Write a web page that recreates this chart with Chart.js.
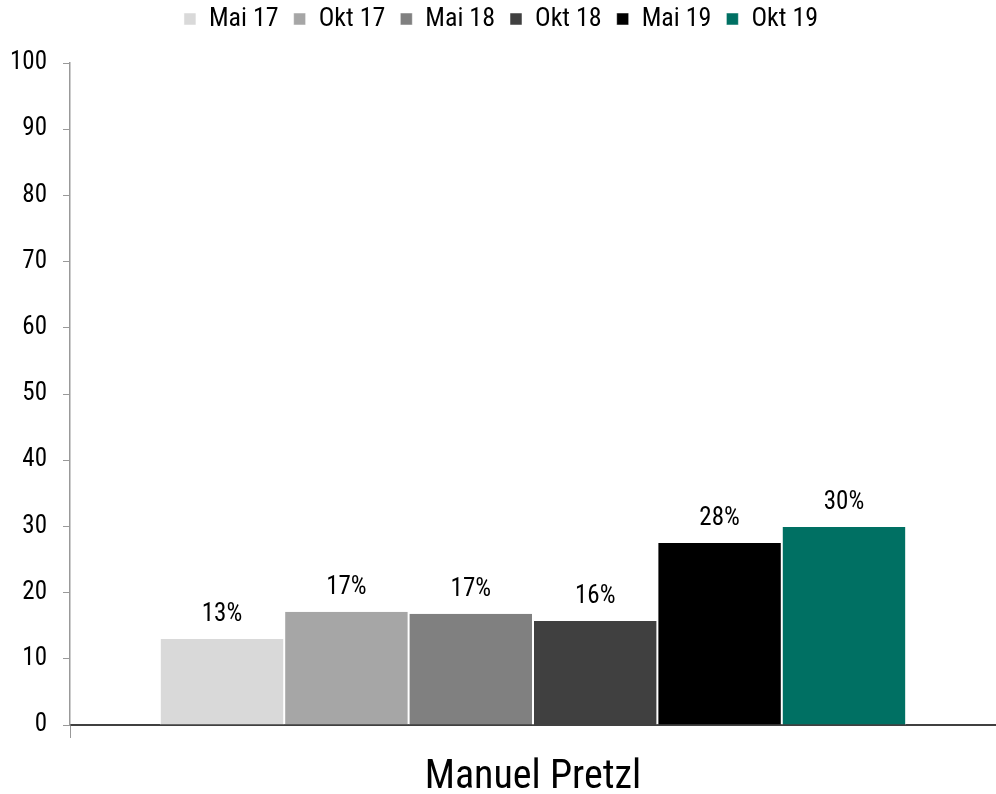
<!DOCTYPE html>
<html>
<head>
<meta charset="utf-8">
<script src="https://cdn.jsdelivr.net/npm/chart.js@4/dist/chart.umd.min.js"></script>
<style>
  html, body { margin: 0; padding: 0; background: #fff; }
  #wrap { width: 996px; height: 794px; }
</style>
</head>
<body>
<div id="wrap"><canvas id="chart"></canvas></div>
<script>
// category and survey waves
const categories = ["Manuel Pretzl"];
const waves = ["Mai 17", "Okt 17", "Mai 18", "Okt 18", "Mai 19", "Okt 19"];

// share per wave (percent)
const mai17 = [13.0];
const okt17 = [17.1];
const mai18 = [16.8];
const okt18 = [15.7];
const mai19 = [27.5];
const okt19 = [29.9];

// y axis ticks
const yTicks = [0, 10, 20, 30, 40, 50, 60, 70, 80, 90, 100];

const waveColors = ["#D9D9D9", "#A6A6A6", "#808080", "#404040", "#000000", "#007063"];

const fontFamily = "'Roboto Condensed', 'Liberation Sans', sans-serif";

Chart.defaults.font.family = fontFamily;
Chart.defaults.color = "#000";

// draws the percent value above each bar
const barLabels = {
  id: "barLabels",
  afterDatasetsDraw(chart) {
    const ctx = chart.ctx;
    ctx.save();
    ctx.font = "25px " + fontFamily;
    ctx.fillStyle = "#000";
    ctx.textAlign = "center";
    ctx.textBaseline = "alphabetic";
    chart.data.datasets.forEach((ds, i) => {
      chart.getDatasetMeta(i).data.forEach((bar, j) => {
        ctx.fillText(Math.round(ds.data[j]) + "%", bar.x, bar.y - 18);
      });
    });
    ctx.restore();
  }
};

const series = [mai17, okt17, mai18, okt18, mai19, okt19];

new Chart(document.getElementById("chart"), {
  type: "bar",
  data: {
    labels: categories,
    datasets: series.map((values, i) => ({
      label: waves[i],
      data: values,
      backgroundColor: waveColors[i],
      borderColor: "#fff",
      borderWidth: { left: 1, right: 1, top: 0, bottom: 0 },
      borderSkipped: false,
      categoryPercentage: 0.806,
      barPercentage: 1
    }))
  },
  plugins: [barLabels],
  options: {
    responsive: true,
    maintainAspectRatio: false,
    animation: false,
    layout: {
      padding: { top: -9, right: 0, bottom: 0, left: 6 }
    },
    plugins: {
      tooltip: { enabled: false },
      legend: {
        position: "top",
        weight: 3000,
        labels: {
          boxWidth: 12,
          boxHeight: 12,
          padding: 15,
          color: "#000",
          font: { size: 26 }
        }
      },
      // empty title used as a spacer between legend and plot
      title: {
        display: true,
        text: "",
        weight: 500,
        padding: 0,
        font: { size: 21, lineHeight: 1 }
      }
    },
    scales: {
      x: {
        afterFit: axis => { axis.height = 69; },
        border: { color: "#404040", width: 2 },
        grid: {
          drawOnChartArea: false,
          offset: true,
          tickLength: 13,
          color: ctx => ctx.index === 0 ? "#999" : "rgba(0,0,0,0)"
        },
        ticks: {
          padding: 16,
          color: "#000",
          font: { size: 40 }
        }
      },
      y: {
        min: 0,
        max: 100,
        afterBuildTicks: axis => {
          axis.ticks = yTicks.map(v => ({ value: v }));
        },
        afterFit: axis => { axis.width = 64; },
        border: { color: "#999", width: 1.5 },
        grid: {
          drawOnChartArea: false,
          tickLength: 7,
          color: "#999"
        },
        ticks: {
          padding: 16,
          color: "#000",
          font: { size: 25 }
        }
      }
    }
  }
});
</script>
</body>
</html>
